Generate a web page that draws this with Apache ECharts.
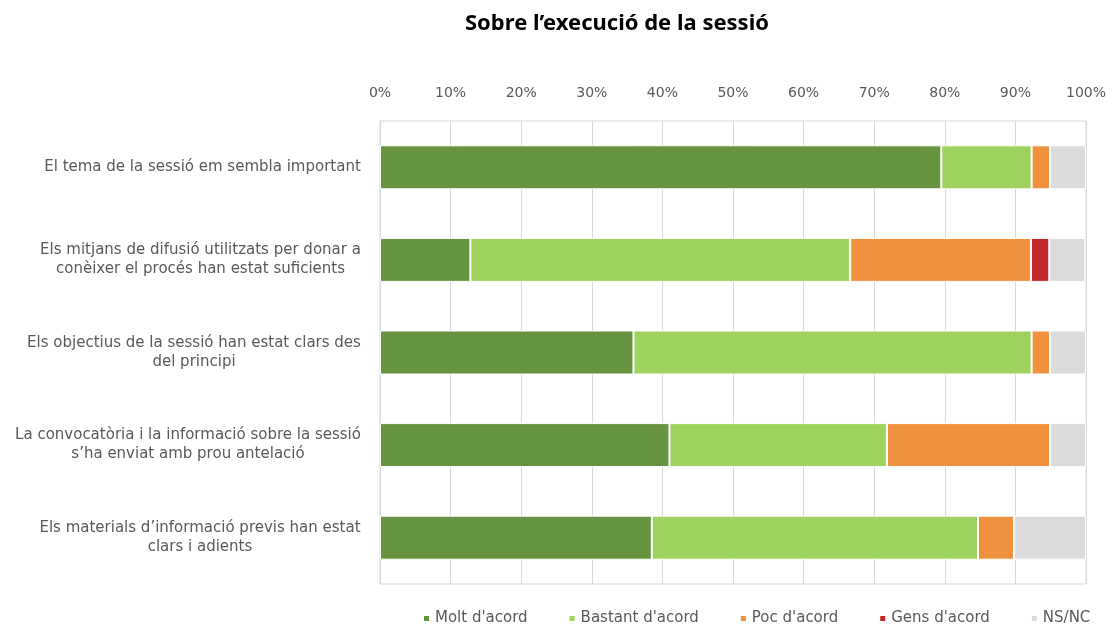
<!DOCTYPE html>
<html>
<head>
<meta charset="utf-8">
<script src="https://cdn.jsdelivr.net/npm/echarts@6/dist/echarts.min.js"></script>
<style>
body { margin: 0; padding: 0; background: #fff; }
#chart { width: 1112px; height: 631px; }
</style>
</head>
<body>
<div id="chart"></div>
<script>
// preguntes (de dalt a baix)
const questions = [
  "El tema de la sessió em sembla important",
  "Els mitjans de difusió utilitzats per donar a\nconèixer el procés han estat suficients",
  "Els objectius de la sessió han estat clars des\ndel principi",
  "La convocatòria i la informació sobre la sessió\ns’ha enviat amb prou antelació",
  "Els materials d’informació previs han estat\nclars i adients"
];
const seriesNames = ["Molt d'acord", "Bastant d'acord", "Poc d'acord", "Gens d'acord", "NS/NC"];
// percentatges per resposta
const molt = [79.5, 12.8, 35.9, 41.0, 38.5];
const bastant = [12.8, 53.8, 56.4, 30.8, 46.2];
const poc = [2.6, 25.6, 2.6, 23.1, 5.1];
const gens = [0, 2.6, 0, 0, 0];
const nsnc = [5.1, 5.1, 5.1, 5.1, 10.2];
const xTicks = [0, 10, 20, 30, 40, 50, 60, 70, 80, 90, 100];

const colors = ["#679441", "#9fd35f", "#f0913f", "#c0282a", "#dcdcdc"];
const labelSize = 15;

// amplada de cada etiqueta per centrar les linies dins el bloc
const ctx = document.createElement("canvas").getContext("2d");
ctx.font = labelSize + "px 'DejaVu Sans'";
const rich = {};
questions.forEach((q, i) => {
  const w = Math.max(...q.split("\n").map(l => ctx.measureText(l).width));
  rich["q" + i] = { width: Math.ceil(w), align: "center", fontSize: labelSize, lineHeight: 19, color: "#595959", fontFamily: "DejaVu Sans" };
});

const data = [molt, bastant, poc, gens, nsnc];
const chart = echarts.init(document.getElementById("chart"));
chart.setOption({
  animation: false,
  title: {
    text: "Sobre l’execució de la sessió",
    left: 460,
    top: 8,
    textStyle: { fontSize: 22, fontWeight: "bold", color: "#000", fontFamily: "Noto Sans" }
  },
  legend: {
    top: 606,
    left: 417,
    right: 0,
    itemWidth: 7,
    itemHeight: 7,
    itemGap: 40,
    icon: "rect",
    textStyle: { fontSize: 15, color: "#595959", fontFamily: "DejaVu Sans" },
    data: seriesNames
  },
  grid: { left: 380, right: 26, top: 121, bottom: 47, show: true, borderColor: "#d9d9d9", borderWidth: 1 },
  xAxis: {
    type: "value",
    position: "top",
    min: 0,
    max: 100,
    interval: 10,
    axisLine: { show: false },
    axisTick: { show: false },
    splitLine: { lineStyle: { color: "#d9d9d9" } },
    axisLabel: {
      formatter: v => xTicks.includes(v) ? v + "%" : "",
      color: "#595959",
      fontSize: 14,
      fontFamily: "DejaVu Sans",
      margin: 21
    }
  },
  yAxis: {
    type: "category",
    inverse: true,
    data: questions,
    axisLine: { show: false },
    axisTick: { show: false },
    axisLabel: {
      margin: 19,
      formatter: (v, i) => v.split("\n").map(l => "{q" + i + "|" + l + "}").join("\n"),
      rich: rich
    }
  },
  series: seriesNames.map((name, k) => ({
    name: name,
    type: "bar",
    stack: "total",
    barWidth: 44,
    itemStyle: { color: colors[k], borderColor: "#fff", borderWidth: 1 },
    data: data[k]
  }))
});
</script>
</body>
</html>
